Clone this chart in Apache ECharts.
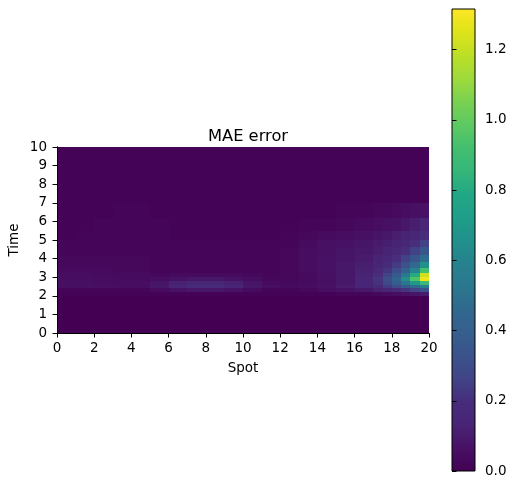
<!DOCTYPE html>
<html>
<head>
<meta charset="utf-8">
<script src="https://cdn.jsdelivr.net/npm/echarts@6/dist/echarts.min.js"></script>
<style>
  html, body { margin: 0; padding: 0; background: #fff; }
  #main { width: 516px; height: 490px; }
</style>
</head>
<body>
<div id="main"></div>
<script>
// cell edges of the error grid (Spot along x, Time along y)
var xEdges = [0, 1, 2, 3, 4, 5, 6, 7, 8, 9, 10, 11, 12, 13, 14, 15, 16, 17, 17.5, 18, 18.5, 19, 19.5, 20];
var yEdges = [0, 2, 2.2, 2.4, 2.6, 2.8, 3.0, 3.2, 3.5, 3.8, 4.2, 4.6, 5.0, 5.5, 6.2, 7, 10];

// MAE per cell, one row per time band (bottom to top)
var maeRows = [
  [0.00,0.00,0.00,0.00,0.00,0.00,0.00,0.00,0.00,0.00,0.00,0.00,0.00,0.00,0.00,0.00,0.00, 0.00,0.00,0.00,0.00,0.00,0.00],
  [0.01,0.01,0.01,0.01,0.01,0.01,0.01,0.01,0.01,0.01,0.01,0.01,0.01,0.01,0.01,0.02,0.02, 0.03,0.04,0.05,0.06,0.08,0.10],
  [0.02,0.02,0.02,0.02,0.02,0.04,0.07,0.09,0.09,0.07,0.04,0.02,0.02,0.03,0.05,0.07,0.09, 0.12,0.15,0.18,0.22,0.27,0.33],
  [0.06,0.06,0.06,0.05,0.05,0.09,0.14,0.18,0.18,0.14,0.09,0.05,0.04,0.05,0.07,0.10,0.14, 0.19,0.24,0.30,0.38,0.47,0.56],
  [0.06,0.06,0.05,0.05,0.05,0.08,0.12,0.15,0.15,0.12,0.08,0.04,0.03,0.04,0.06,0.09,0.14, 0.21,0.28,0.38,0.52,0.70,0.88],
  [0.05,0.05,0.05,0.04,0.04,0.05,0.07,0.09,0.09,0.07,0.05,0.03,0.03,0.04,0.06,0.09,0.14, 0.22,0.31,0.44,0.65,0.95,1.28],
  [0.05,0.05,0.04,0.04,0.04,0.03,0.04,0.04,0.04,0.04,0.03,0.02,0.03,0.04,0.06,0.09,0.13, 0.20,0.27,0.37,0.53,0.80,1.22],
  [0.04,0.04,0.04,0.03,0.03,0.02,0.02,0.02,0.02,0.02,0.02,0.02,0.03,0.05,0.07,0.09,0.12, 0.17,0.22,0.30,0.42,0.60,0.92],
  [0.03,0.03,0.03,0.03,0.03,0.02,0.02,0.02,0.02,0.02,0.02,0.02,0.03,0.05,0.07,0.09,0.11, 0.15,0.18,0.24,0.33,0.46,0.66],
  [0.03,0.03,0.03,0.03,0.03,0.02,0.02,0.02,0.02,0.02,0.02,0.02,0.03,0.05,0.07,0.08,0.10, 0.13,0.16,0.20,0.26,0.35,0.48],
  [0.02,0.02,0.02,0.02,0.02,0.02,0.02,0.02,0.02,0.02,0.02,0.02,0.03,0.05,0.06,0.08,0.09, 0.11,0.13,0.16,0.20,0.26,0.35],
  [0.02,0.02,0.02,0.02,0.02,0.02,0.02,0.02,0.02,0.02,0.02,0.02,0.02,0.04,0.06,0.07,0.08, 0.10,0.11,0.13,0.16,0.20,0.26],
  [0.01,0.02,0.02,0.02,0.02,0.02,0.01,0.01,0.01,0.01,0.01,0.01,0.02,0.03,0.04,0.05,0.06, 0.08,0.09,0.11,0.13,0.16,0.20],
  [0.01,0.01,0.02,0.02,0.02,0.02,0.01,0.01,0.01,0.01,0.01,0.01,0.01,0.02,0.02,0.03,0.04, 0.05,0.06,0.07,0.09,0.11,0.14],
  [0.01,0.01,0.01,0.02,0.02,0.01,0.01,0.01,0.01,0.01,0.01,0.01,0.01,0.01,0.01,0.02,0.02, 0.03,0.03,0.04,0.05,0.06,0.07],
  [0.01,0.01,0.01,0.01,0.01,0.01,0.01,0.01,0.01,0.01,0.01,0.01,0.01,0.01,0.01,0.01,0.01, 0.01,0.01,0.01,0.01,0.01,0.01]
];

var cbMax = 1.316;
var cbTicks = [0, 0.2, 0.4, 0.6, 0.8, 1.0, 1.2];

var viridis = ['#440154','#471164','#482475','#472c7a','#414487','#3b528b','#355f8d','#31688e',
  '#2a788e','#26828e','#21918c','#1f9e89','#22a884','#35b779','#44bf70','#5ec962',
  '#7ad151','#9fda3a','#bddf26','#dfe318','#fde725'];

var font = 'DejaVu Sans';

var cells = [];
for (var i = 0; i < maeRows.length; i++) {
  for (var j = 0; j < maeRows[i].length; j++) {
    cells.push([xEdges[j], yEdges[i], maeRows[i][j], xEdges[j + 1], yEdges[i + 1]]);
  }
}

// snap cell corners to whole pixels so neighbouring cells meet without seams
function renderCell(params, api) {
  var p0 = api.coord([api.value(0), api.value(4)]);
  var p1 = api.coord([api.value(3), api.value(1)]);
  var x0 = Math.round(p0[0]), y0 = Math.round(p0[1]);
  var x1 = Math.round(p1[0]), y1 = Math.round(p1[1]);
  return {
    type: 'rect',
    shape: { x: x0, y: y0, width: x1 - x0, height: y1 - y0 },
    style: { fill: api.visual('color') }
  };
}

function renderBar(params, api) {
  var p0 = api.coord([0, api.value(1)]);
  var p1 = api.coord([1, api.value(0)]);
  var stops = viridis.map(function (c, k) { return { offset: k / (viridis.length - 1), color: c }; });
  return {
    type: 'rect',
    shape: { x: p0[0], y: p0[1], width: p1[0] - p0[0], height: p1[1] - p0[1] },
    style: { fill: new echarts.graphic.LinearGradient(0, 1, 0, 0, stops), stroke: '#000', lineWidth: 1 }
  };
}

var axisLine = { show: true, lineStyle: { color: '#000', width: 1 } };
var tick = { show: true, length: 4.5, lineStyle: { color: '#000', width: 1 } };
var label = { color: '#000', fontSize: 13.5, fontFamily: font };

var chart = echarts.init(document.getElementById('main'));
chart.setOption({
  animation: false,
  backgroundColor: '#fff',
  title: {
    text: 'MAE error',
    left: 243, top: 124, textAlign: 'center',
    textStyle: { color: '#000', fontSize: 16.3, fontWeight: 'normal', fontFamily: font }
  },
  grid: [
    { left: 57, top: 147, width: 372, height: 186, outerBoundsMode: 'none', containLabel: false },
    { left: 452, top: 9, width: 23, height: 462, outerBoundsMode: 'none', containLabel: false }
  ],
  xAxis: [
    { type: 'value', gridIndex: 0, min: 0, max: 20, interval: 2, z: 10,
      name: 'Spot', nameLocation: 'middle', nameGap: 28, nameMoveOverlap: false,
      nameTextStyle: { color: '#000', fontSize: 13.5, fontFamily: font },
      axisLine: axisLine, axisTick: tick, axisLabel: Object.assign({ margin: 8 }, label),
      splitLine: { show: false } },
    { type: 'value', gridIndex: 0, min: 0, max: 20, position: 'top', z: 10,
      axisLine: axisLine, axisTick: { show: false }, axisLabel: { show: false }, splitLine: { show: false } },
    { type: 'value', gridIndex: 1, min: 0, max: 1, show: false }
  ],
  yAxis: [
    { type: 'value', gridIndex: 0, min: 0, max: 10, interval: 1, z: 10,
      name: 'Time', nameLocation: 'middle', nameGap: 36, nameMoveOverlap: false,
      nameTextStyle: { color: '#000', fontSize: 13.5, fontFamily: font },
      axisLine: axisLine, axisTick: tick, axisLabel: Object.assign({ margin: 10 }, label),
      splitLine: { show: false } },
    { type: 'value', gridIndex: 0, min: 0, max: 10, position: 'right', z: 10,
      axisLine: axisLine, axisTick: { show: false }, axisLabel: { show: false }, splitLine: { show: false } },
    { type: 'value', gridIndex: 1, min: 0, max: cbMax, position: 'right', z: 10,
      axisLine: { show: false },
      axisTick: { show: true, length: 4.5, customValues: cbTicks, lineStyle: { color: '#000', width: 1 } },
      axisLabel: Object.assign({
        margin: 10, customValues: cbTicks,
        formatter: function (v) { return cbTicks.indexOf(v) >= 0 ? v.toFixed(1) : ''; }
      }, label),
      splitLine: { show: false } }
  ],
  visualMap: {
    show: false, type: 'continuous', seriesIndex: 0, dimension: 2,
    min: 0, max: cbMax, inRange: { color: viridis }
  },
  series: [
    { type: 'custom', xAxisIndex: 0, yAxisIndex: 0, renderItem: renderCell, clip: true, silent: true,
      encode: { x: [0, 3], y: [1, 4] }, data: cells },
    { type: 'custom', xAxisIndex: 2, yAxisIndex: 2, renderItem: renderBar, silent: true,
      encode: { y: [0, 1] }, data: [[0, cbMax]] }
  ]
});
</script>
</body>
</html>
